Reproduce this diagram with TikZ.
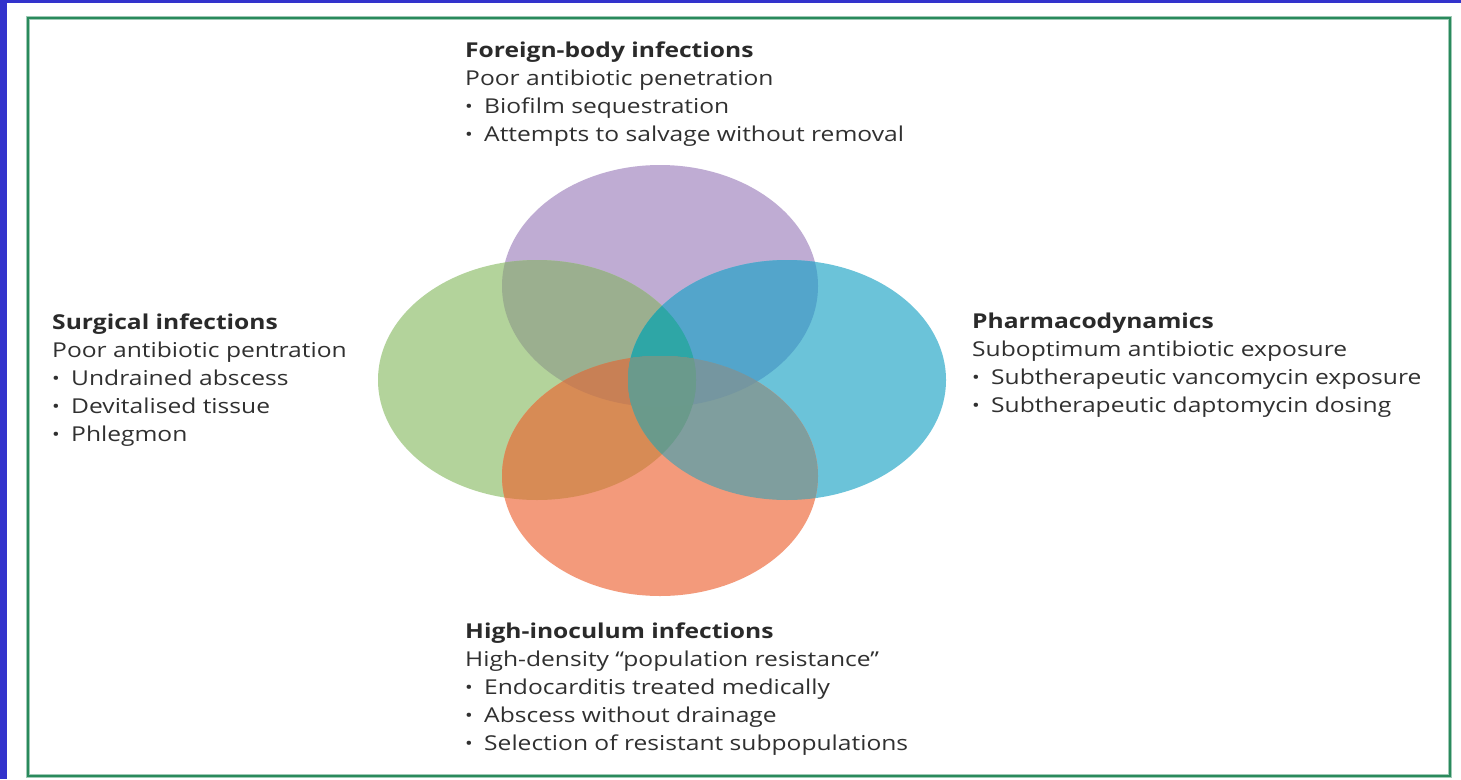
\documentclass[tikz,border=0pt]{standalone}
\usepackage{fontspec}
\setmainfont{Open Sans}[FakeStretch=1.2]
\definecolor{cP}{HTML}{BFACD3}
\definecolor{cG}{HTML}{B3D39B}
\definecolor{cB}{HTML}{6BC3D9}
\definecolor{cO}{HTML}{F39A7B}
\definecolor{cPG}{HTML}{9BAF8F}
\definecolor{cPB}{HTML}{53A5CB}
\definecolor{cGO}{HTML}{D78B55}
\definecolor{cBO}{HTML}{7F9E9E}
\definecolor{cPGB}{HTML}{2EA6A6}
\definecolor{cPGO}{HTML}{C88055}
\definecolor{cPBO}{HTML}{7596A0}
\definecolor{cGBO}{HTML}{6A9A8B}
\definecolor{cAll}{HTML}{6A9A8C}
\definecolor{framegreen}{HTML}{2A8A5C}
\definecolor{blueband}{HTML}{3333CC}
\definecolor{textgray}{HTML}{303030}
\definecolor{headgray}{HTML}{2A2A2A}
\newcommand\itembul{\makebox[19pt][l]{\raisebox{0.5pt}{\fontsize{17}{17}\selectfont •}}}
\newcommand\ellP{(660,286) ellipse (158pt and 121pt)}
\newcommand\ellG{(537,380) ellipse (159pt and 120pt)}
\newcommand\ellB{(787,380) ellipse (159pt and 120pt)}
\newcommand\ellO{(660,476) ellipse (158pt and 120pt)}
\newcommand\hd[1]{{\bfseries\color{headgray}#1}}
\begin{document}
\begin{tikzpicture}[x=1pt,y=-1pt,
  txt/.style={anchor=base west, inner sep=0pt, text=textgray,
    font=\fontsize{20.5}{28}\selectfont}]
\useasboundingbox (0,0) rectangle (1461,779);
\fill[white] (0,0) rectangle (1461,779);
% bands
\fill[blueband] (0,0) rectangle (7,779);
\fill[blueband] (0,0) rectangle (1461,3);
% frame
\draw[framegreen!45, line width=4pt] (28,18) rectangle (1450,776);
\draw[framegreen, line width=2pt] (28,18) rectangle (1450,776);
% base ellipses
\fill[cP] \ellP;
\fill[cG] \ellG;
\fill[cB] \ellB;
\fill[cO] \ellO;
% pairs
\begin{scope}\clip \ellP; \fill[cPG] \ellG; \end{scope}
\begin{scope}\clip \ellP; \fill[cPB] \ellB; \end{scope}
\begin{scope}\clip \ellG; \fill[cGO] \ellO; \end{scope}
\begin{scope}\clip \ellB; \fill[cBO] \ellO; \end{scope}
% triples
\begin{scope}\clip \ellP; \clip \ellG; \fill[cPGB] \ellB; \end{scope}
\begin{scope}\clip \ellP; \clip \ellG; \fill[cPGO] \ellO; \end{scope}
\begin{scope}\clip \ellP; \clip \ellB; \fill[cPBO] \ellO; \end{scope}
\begin{scope}\clip \ellG; \clip \ellB; \fill[cGBO] \ellO; \end{scope}
% all four
\begin{scope}\clip \ellP; \clip \ellG; \clip \ellB; \fill[cAll] \ellO; \end{scope}
% texts
\node[txt] (fb) at (465,57) {\begin{tabular}[t]{@{}l@{}}\hd{Foreign-body infections}\\ Poor antibiotic penetration\\ \itembul Biofilm sequestration\\ \itembul Attempts to salvage without removal\end{tabular}};
\node[txt] (si) at (52,329) {\begin{tabular}[t]{@{}l@{}}\hd{Surgical infections}\\ Poor antibiotic pentration\\ \itembul Undrained abscess\\ \itembul Devitalised tissue\\ \itembul Phlegmon\end{tabular}};
\node[txt] (pd) at (972,328) {\begin{tabular}[t]{@{}l@{}}\hd{Pharmacodynamics}\\ Suboptimum antibiotic exposure\\ \itembul Subtherapeutic vancomycin exposure\\ \itembul Subtherapeutic daptomycin dosing\end{tabular}};
\node[txt] (hi) at (465,638) {\begin{tabular}[t]{@{}l@{}}\hd{High-inoculum infections}\\ High-density “population resistance”\\ \itembul Endocarditis treated medically\\ \itembul Abscess without drainage\\ \itembul Selection of resistant subpopulations\end{tabular}};
\end{tikzpicture}
\end{document}
